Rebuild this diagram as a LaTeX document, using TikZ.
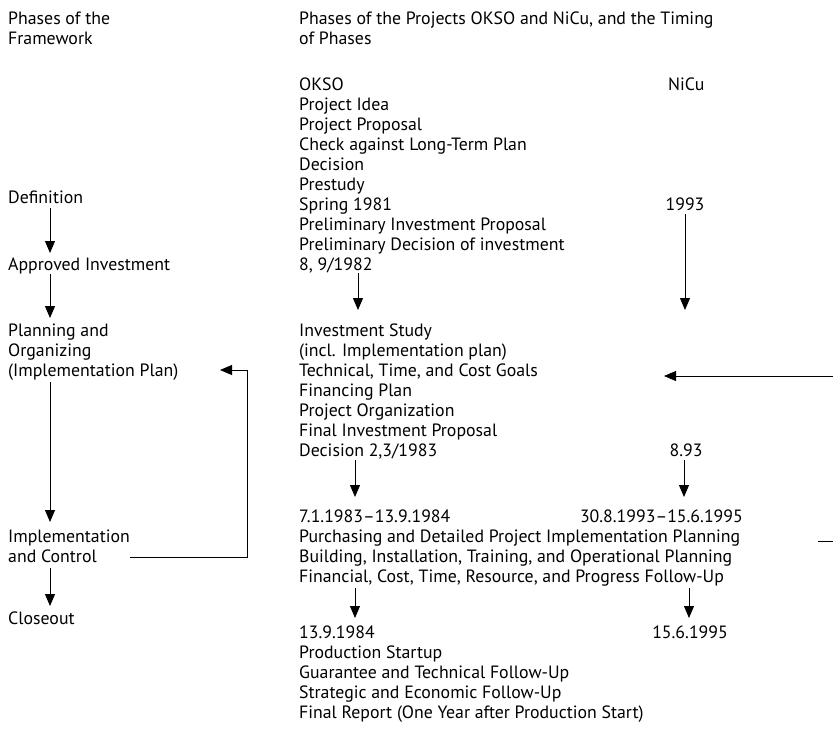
\documentclass[tikz,border=0pt]{standalone}
\usepackage{fontspec}
\setmainfont{PT Sans}
\usetikzlibrary{arrows.meta}
\tikzset{
  txt/.style={anchor=base west, inner sep=0pt, font=\fontsize{17.8}{20}\selectfont},
  txtc/.style={txt, anchor=base},
  txte/.style={txt, anchor=base east},
  arr/.style={-{Triangle[length=12pt,width=10pt]}, line width=0.8pt},
  ln/.style={line width=0.8pt}
}
\begin{document}
\begin{tikzpicture}[x=1pt,y=-1pt]
\useasboundingbox (0,0) rectangle (833,729);
% left column
\node[txt] (hl1) at (8,24) {Phases of the};
\node[txt] (hl2) at (8,44) {Framework};
\node[txt] (def) at (8,203) {Definition};
\node[txt] (appr) at (8,270) {Approved Investment};
\node[txt] (pl1) at (8,336) {Planning and};
\node[txt] (pl2) at (8,356) {Organizing};
\node[txt] (pl3) at (8,376) {(Implementation Plan)};
\node[txt] (im1) at (8,542) {Implementation};
\node[txt] (im2) at (8,562) {and Control};
\node[txt] (clo) at (8,624) {Closeout};
% middle column
\node[txt] (hm1) at (299,24) {Phases of the Projects OKSO and NiCu, and the Timing};
\node[txt] (hm2) at (299,44) {of Phases};
\node[txt] (m1) at (299,90) {OKSO};
\node[txt] (m2) at (299,110) {Project Idea};
\node[txt] (m3) at (299,130) {Project Proposal};
\node[txt] (m4) at (299,150) {Check against Long-Term Plan};
\node[txt] (m5) at (299,170) {Decision};
\node[txt] (m6) at (299,190) {Prestudy};
\node[txt] (m7) at (299,210) {Spring 1981};
\node[txt] (m8) at (299,230) {Preliminary Investment Proposal};
\node[txt] (m9) at (299,250) {Preliminary Decision of investment};
\node[txt] (m10) at (299,270) {8, 9/1982};
\node[txt] (s1) at (299,336) {Investment Study};
\node[txt] (s2) at (299,356) {(incl. Implementation plan)};
\node[txt] (s3) at (299,376) {Technical, Time, and Cost Goals};
\node[txt] (s4) at (299,396) {Financing Plan};
\node[txt] (s5) at (299,416) {Project Organization};
\node[txt] (s6) at (299,436) {Final Investment Proposal};
\node[txt] (s7) at (299,456) {Decision 2,3/1983};
\node[txt] (i1) at (299,522) {7.1.1983--13.9.1984};
\node[txt] (i2) at (299,542) {Purchasing and Detailed Project Implementation Planning};
\node[txt] (i3) at (299,562) {Building, Installation, Training, and Operational Planning};
\node[txt] (i4) at (299,582) {Financial, Cost, Time, Resource, and Progress Follow-Up};
\node[txt] (c1) at (299,638) {13.9.1984};
\node[txt] (c2) at (299,658) {Production Startup};
\node[txt] (c3) at (299,678) {Guarantee and Technical Follow-Up};
\node[txt] (c4) at (299,698) {Strategic and Economic Follow-Up};
\node[txt] (c5) at (299,718) {Final Report (One Year after Production Start)};
% NiCu column
\node[txt] (n1) at (668,90) {NiCu};
\node[txtc] (n2) at (685,210) {1993};
\node[txtc] (n3) at (686,456) {8.93};
\node[txte] (n4) at (743,522) {30.8.1993--15.6.1995};
\node[txte] (n5) at (728,638) {15.6.1995};
% arrow end points
\coordinate (a1s) at (50,208); \coordinate (a1e) at (50,253);
\coordinate (a2s) at (50,274); \coordinate (a2e) at (50,318);
\coordinate (a3s) at (50,382); \coordinate (a3e) at (50,522);
\coordinate (a4s) at (50,568); \coordinate (a4e) at (50,606);
\coordinate (fb1) at (130,557); \coordinate (fb2) at (247,557);
\coordinate (fb3) at (247,370); \coordinate (fb4) at (220,370);
\coordinate (b1s) at (358,273); \coordinate (b1e) at (358,310);
\coordinate (b2s) at (355,460); \coordinate (b2e) at (355,497);
\coordinate (b3s) at (355,588); \coordinate (b3e) at (355,618);
\coordinate (c1s) at (685,214); \coordinate (c1e) at (685,310);
\coordinate (c2s) at (684,460); \coordinate (c2e) at (684,497);
\coordinate (c3s) at (689,588); \coordinate (c3e) at (689,618);
\coordinate (rs) at (833,376); \coordinate (re) at (664,376);
\coordinate (ds) at (818,541); \coordinate (de) at (833,541);
% connectors
\draw[arr] (a1s) -- (a1e);
\draw[arr] (a2s) -- (a2e);
\draw[arr] (a3s) -- (a3e);
\draw[arr] (a4s) -- (a4e);
\draw[arr] (fb1) -- (fb2) -- (fb3) -- (fb4);
\draw[arr] (b1s) -- (b1e);
\draw[arr] (b2s) -- (b2e);
\draw[arr] (b3s) -- (b3e);
\draw[arr] (c1s) -- (c1e);
\draw[arr] (c2s) -- (c2e);
\draw[arr] (c3s) -- (c3e);
\draw[arr] (rs) -- (re);
\draw[ln] (ds) -- (de);
\end{tikzpicture}
\end{document}
